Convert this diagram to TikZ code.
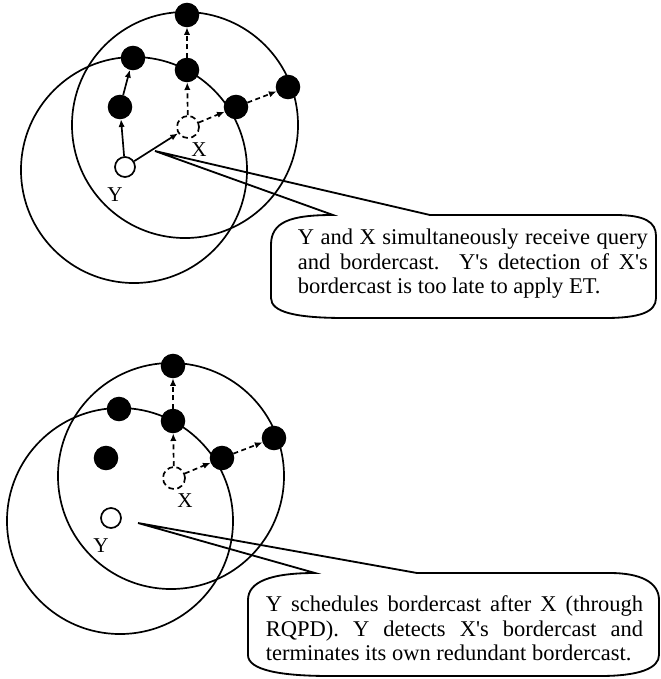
\documentclass[tikz,border=0pt]{standalone}
\usepackage{fontspec}
\setmainfont{Liberation Serif}
\usetikzlibrary{arrows.meta}
\newcommand{\ap}{\textquotesingle}

\begin{document}
\begin{tikzpicture}[x=0.025cm,y=-0.025cm,line width=1.2pt,
  host/.style={circle,draw,fill=black,minimum size=0.57cm,inner sep=0pt},
  src/.style={circle,draw,fill=white,minimum size=0.5cm,inner sep=0pt},
  brd/.style={circle,draw,fill=white,dash pattern=on 4pt off 2.5pt,minimum size=0.55cm,inner sep=0pt},
  fwd/.style={-{Latex[length=5.5pt,width=4.5pt]}},
  fwddash/.style={fwd,dash pattern=on 3.5pt off 2.5pt},
  lbl/.style={font=\fontsize{15}{17}\selectfont},
  note/.style={font=\fontsize{16}{17.5}\selectfont,align=justify,inner sep=0pt,anchor=north west},
  bubble/.style={line width=1.3pt}]
  \useasboundingbox (0,0) rectangle (660,679);

  \draw (134,170) circle [radius=2.825cm];
  \draw (185,125) circle [radius=2.825cm];
  \node[src] (y1) at (125,167) {};
  \node[brd] (x1) at (188,127) {};
  \node[host] (p1) at (120,107) {};
  \node[host] (p2) at (133,58) {};
  \node[host] (p3) at (187,70) {};
  \node[host] (p4) at (187,15) {};
  \node[host] (p5) at (236,107) {};
  \node[host] (p6) at (288,87) {};
  \node[lbl] (lx1) at (199,150) {X};
  \node[lbl] (ly1) at (115,195) {Y};
  \draw[fwd] (y1) -- (p1);
  \draw[fwd] (p1) -- (p2);
  \draw[fwd] (y1) -- (x1);
  \draw[fwddash] (x1) -- (p3);
  \draw[fwddash] (p3) -- (p4);
  \draw[fwddash] (x1) -- (p5);
  \draw[fwddash] (p5) -- (p6);
  \coordinate (t1) at (155,151);
  \draw[bubble] (t1) -- (333,215) .. controls (290,215) and (271,222) .. (271,245)
    -- (271,298) .. controls (271,312) and (295,318) .. (345,318) -- (605,318)
    .. controls (640,318) and (656,312) .. (656,298) -- (656,236)
    .. controls (656,222) and (645,215) .. (615,215) -- (430,215) -- cycle;
  \node[note,text width=8.75cm] (n1) at (297,228) {Y and X simultaneously receive query\linebreak
    and bordercast.\ \ Y\ap s detection of X\ap s\linebreak
    bordercast is too late to apply ET.};

  \draw (120,521) circle [radius=2.825cm];
  \draw (171,476) circle [radius=2.825cm];
  \node[src] (y2) at (111,518) {};
  \node[brd] (x2) at (174,478) {};
  \node[host] (q1) at (106,458) {};
  \node[host] (q2) at (119,409) {};
  \node[host] (q3) at (173,421) {};
  \node[host] (q4) at (173,366) {};
  \node[host] (q5) at (222,458) {};
  \node[host] (q6) at (274,438) {};
  \node[lbl] (lx2) at (185,501) {X};
  \node[lbl] (ly2) at (101,546) {Y};
  \draw[fwddash] (x2) -- (q3);
  \draw[fwddash] (q3) -- (q4);
  \draw[fwddash] (x2) -- (q5);
  \draw[fwddash] (q5) -- (q6);
  \coordinate (t2) at (138,523);
  \draw[bubble] (t2) -- (315,573) .. controls (270,573) and (248,582) .. (248,600)
    -- (248,655) .. controls (248,670) and (280,676) .. (330,676) -- (600,676)
    .. controls (640,676) and (659,668) .. (659,655) -- (659,600)
    .. controls (659,582) and (640,573) .. (610,573) -- (417,573) -- cycle;
  \node[note,text width=9.43cm] (n2) at (265,595) {Y schedules bordercast after X (through\linebreak
    RQPD). Y detects X\ap s bordercast and\linebreak
    terminates its own redundant bordercast.};
\end{tikzpicture}
\end{document}
